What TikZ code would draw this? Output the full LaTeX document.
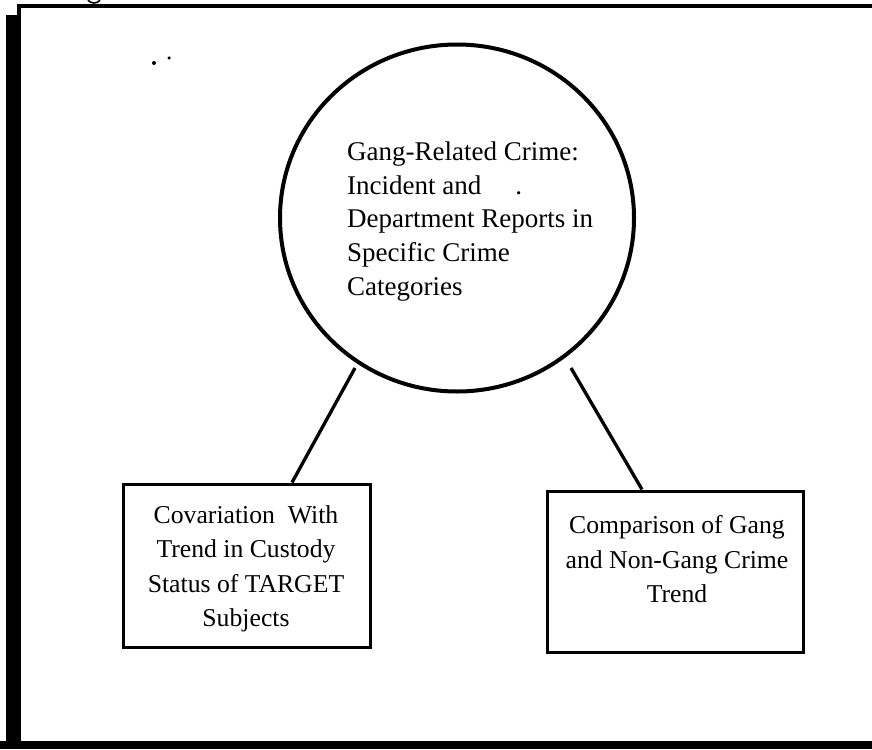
\documentclass[tikz,border=0pt]{standalone}
\usepackage{fontspec}
\setmainfont{Liberation Serif}
\usetikzlibrary{shapes.geometric,calc}
\tikzset{
  boxnode/.style={draw, line width=3pt, inner sep=0pt},
  link/.style={line width=3.3pt},
  boxtext/.style={anchor=north, inner sep=0pt, align=center, font=\fontsize{25.7}{34.3}\selectfont},
  circtext/.style={anchor=north west, inner sep=0pt, align=left, font=\fontsize{27}{33.7}\selectfont},
  speck/.style={fill=black, circle, inner sep=0pt, minimum size=4pt}
}
\begin{document}
\begin{tikzpicture}[x=1pt,y=-1pt]
\useasboundingbox (0,0) rectangle (872,749);
% frame
\fill (6,15) rectangle (21,749);
\draw[line width=3.5pt] (19,16) -- (19,6) -- (872,6);
\fill (0,741) rectangle (872,749);
% cut-off fragment at top
\draw[line width=1.6pt] (88,0) .. controls (90,4) and (98,4) .. (100,0);
% specks
\node[speck] (d1) at (154,63) {};
\node[speck, minimum size=3.5pt] (d2) at (169,58) {};
% main circle
\node[draw, ellipse, line width=4pt, minimum width=354pt, minimum height=347pt, inner sep=0pt] (c) at (457,218) {};
\node[circtext] (ctext) at (347,141.6) {Gang-Related Crime:\\Incident and\hspace{34pt}.\\Department Reports in\\Specific Crime\\Categories};
% boxes
\node[boxnode, minimum width=247pt, minimum height=163pt] (lbox) at (246.5,565.5) {};
\node[boxnode, minimum width=256pt, minimum height=161pt] (rbox) at (675,571.5) {};
\node[boxtext] (ltext) at (246,505.5) {Covariation\ \ With\\Trend in Custody\\Status of TARGET\\Subjects};
\node[boxtext] (rtext) at (677,515.5) {Comparison of Gang\\and Non-Gang Crime\\Trend};
% connectors
\coordinate (lt) at (355,368);
\coordinate (rt) at (571,368);
\draw[link] (lt) -- ([xshift=45.5pt]lbox.north);
\draw[link] (rt) -- ([xshift=-33pt]rbox.north);
\end{tikzpicture}
\end{document}
